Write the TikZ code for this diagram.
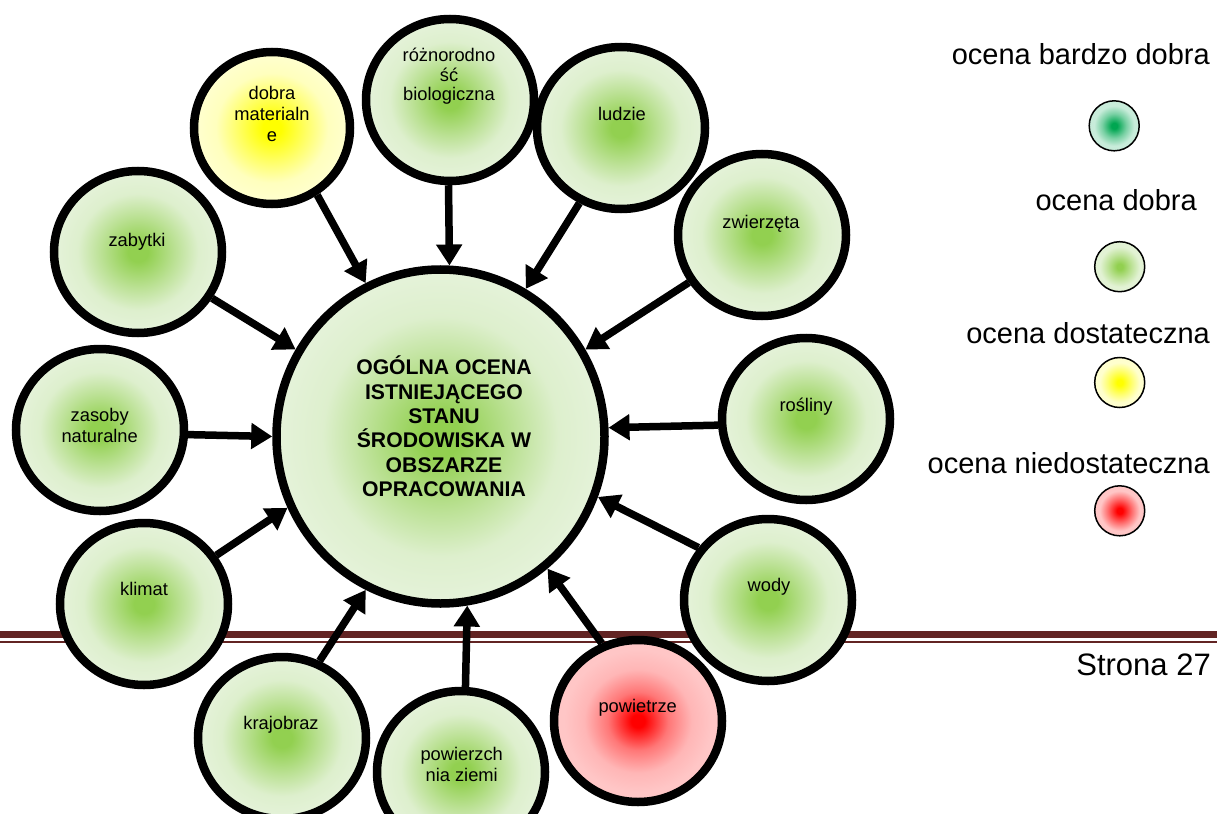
\documentclass[tikz,border=0pt]{standalone}
\usepackage{fontspec}
\setmainfont{Liberation Sans}
\usetikzlibrary{shapes.geometric,arrows.meta}
\definecolor{bandc}{RGB}{98,36,35}
\definecolor{gC}{RGB}{146,208,80}
\definecolor{gE}{RGB}{228,242,216}
\definecolor{yC}{RGB}{255,255,0}
\definecolor{yE}{RGB}{255,255,206}
\definecolor{rC}{RGB}{255,0,0}
\definecolor{rE}{RGB}{255,198,198}
\definecolor{tC}{RGB}{0,166,81}
\definecolor{tE}{RGB}{200,236,218}
\definecolor{lgE}{RGB}{226,242,212}
\pgfdeclareradialshading{gball}{\pgfpoint{0bp}{0bp}}{color(0bp)=(gC); color(3bp)=(gC); color(11bp)=(gC!50!gE); color(18bp)=(gC!8!gE); color(24bp)=(gE); color(50bp)=(gE)}
\pgfdeclareradialshading{yball}{\pgfpoint{0bp}{0bp}}{color(0bp)=(yC); color(3bp)=(yC); color(11bp)=(yC!50!yE); color(18bp)=(yC!8!yE); color(24bp)=(yE); color(50bp)=(yE)}
\pgfdeclareradialshading{rball}{\pgfpoint{0bp}{0bp}}{color(0bp)=(rC); color(2bp)=(rC); color(9bp)=(rC!40!rE); color(16bp)=(rC!8!rE); color(22bp)=(rE); color(50bp)=(rE)}
\pgfdeclareradialshading{ltball}{\pgfpoint{0bp}{0bp}}{color(0bp)=(tC); color(3bp)=(tC); color(12bp)=(tC!40!tE); color(20bp)=(tE); color(50bp)=(tE)}
\pgfdeclareradialshading{lgball}{\pgfpoint{0bp}{0bp}}{color(0bp)=(gC); color(3bp)=(gC); color(12bp)=(gC!45!lgE); color(20bp)=(lgE); color(50bp)=(lgE)}
\pgfdeclareradialshading{lyball}{\pgfpoint{0bp}{0bp}}{color(0bp)=(yC); color(3bp)=(yC); color(12bp)=(yC!45!yE); color(20bp)=(yE); color(50bp)=(yE)}
\pgfdeclareradialshading{lrball}{\pgfpoint{0bp}{0bp}}{color(0bp)=(rC); color(3bp)=(rC); color(12bp)=(rC!45!rE); color(20bp)=(rE); color(50bp)=(rE)}
\tikzset{
  ball/.style={ellipse, draw=black, line width=8.5bp, minimum width=168bp, minimum height=162bp, inner sep=0pt},
  gb/.style={ball, shade, shading=gball},
  stxt/.style={font=\fontsize{18.3bp}{21bp}\selectfont, inner sep=0pt},
  mtxt/.style={font=\fontsize{18.3bp}{21bp}\selectfont, inner sep=0pt, align=center},
  ctxt/.style={font=\bfseries\fontsize{21.2bp}{24.4bp}\selectfont, inner sep=0pt, align=center},
  lg/.style={font=\fontsize{29bp}{34bp}\selectfont, inner sep=0pt, anchor=base east},
  lball/.style={circle, draw=black, line width=1.5bp, minimum size=50bp, inner sep=0pt, shade},
  arr/.style={line width=7.5bp, -{Triangle[length=21bp,width=25bp]}}
}
\begin{document}
\begin{tikzpicture}[x=1bp,y=-1bp]
\useasboundingbox (0,0) rectangle (1217,814);
\clip (0,0) rectangle (1217,814);
% footer band
\fill[bandc] (0,631) rectangle (1217,638.3);
\fill[bandc] (0,640.7) rectangle (1217,642.7);
% central
\node[ball, shade, shading=gball, minimum width=328bp, minimum height=334bp] (cen) at (440.5,436.5) {};
% outer circles
\node[gb] (roz) at (450,100) {};
\node[ball, shade, shading=yball, minimum width=156bp, minimum height=152bp] (dob) at (272,128) {};
\node[gb] (lud) at (621,128) {};
\node[gb] (zab) at (138,252) {};
\node[gb] (zwi) at (762,235) {};
\node[gb] (zas) at (100,430) {};
\node[gb] (ros) at (806,419) {};
\node[gb] (kli) at (144,604) {};
\node[gb] (wod) at (768,600) {};
\node[gb] (kra) at (282,738) {};
\node[gb] (pzi) at (461,772) {};
\node[ball, shade, shading=rball] (pwt) at (638,721) {};
% texts
\node[ctxt] (cen-t) at (444,426.5) {OGÓLNA OCENA\\ISTNIEJĄCEGO\\STANU\\ŚRODOWISKA W\\OBSZARZE\\OPRACOWANIA};
\node[mtxt, font=\fontsize{18.3bp}{19.5bp}\selectfont] (roz-t) at (449,76.4) {różnorodno\\ść\\biologiczna};
\node[mtxt] (dob-t) at (272,114.2) {dobra\\materialn\\e};
\node[stxt, anchor=base] (lud-t) at (622,120.7) {ludzie};
\node[stxt, anchor=base] (zab-t) at (137,246) {zabytki};
\node[stxt, anchor=base] (zwi-t) at (761,228.3) {zwierzęta};
\node[mtxt] (zas-t) at (99.7,425.5) {zasoby\\naturalne};
\node[stxt, anchor=base] (ros-t) at (806,411.7) {rośliny};
\node[stxt, anchor=base] (kli-t) at (144,595.7) {klimat};
\node[stxt, anchor=base] (wod-t) at (769,591.7) {wody};
\node[stxt, anchor=base] (kra-t) at (281,729) {krajobraz};
\node[mtxt] (pzi-t) at (461.7,764.5) {powierzch\\nia ziemi};
\node[stxt, anchor=base] (pwt-t) at (637.7,712.7) {powietrze};
% arrows
\draw[arr] (roz.-91) -- (cen.87.5);
\draw[arr] (dob.-56.3) -- (cen.116.6);
\draw[arr] (lud.-119.8) -- (cen.60.2);
\draw[arr] (zab.-32.8) -- (cen.149.6);
\draw[arr] (zwi.-147.6) -- (cen.31.5);
\draw[arr] (zas.-3.9) -- (cen.180);
\draw[arr] (ros.184) -- (cen.3.7);
\draw[arr] (kli.34.6) -- (cen.205);
\draw[arr] (wod.143.4) -- (cen.-21);
\draw[arr] (kra.64) -- (cen.-116.5);
\draw[arr] (pzi.87.4) -- (cen.-81.7);
\draw[arr] (pwt.115.7) -- (cen.-51);
% legend
\node[lg] (l1) at (1210,65) {ocena bardzo dobra};
\node[lball, shading=ltball] (b1) at (1114.2,125.8) {};
\node[lg] (l2) at (1197,210) {ocena dobra};
\node[lball, shading=lgball] (b2) at (1119.7,266.7) {};
\node[lg] (l3) at (1210,343.3) {ocena dostateczna};
\node[lball, shading=lyball] (b3) at (1119.7,382.5) {};
\node[lg] (l4) at (1210,473.3) {ocena niedostateczna};
\node[lball, shading=lrball] (b4) at (1119.7,510.8) {};
% page number
\node[font=\fontsize{31bp}{36bp}\selectfont, inner sep=0pt, anchor=base east] (str) at (1211,675) {Strona 27};
\end{tikzpicture}
\end{document}
